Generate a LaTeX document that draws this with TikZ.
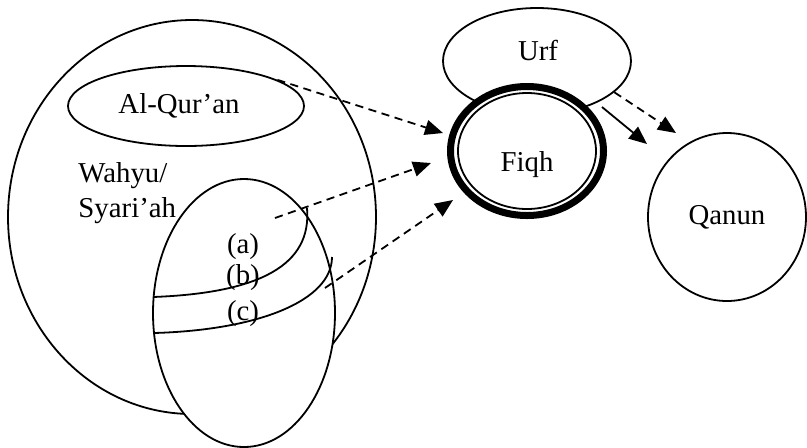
\documentclass[tikz,border=0pt]{standalone}
\usepackage{fontspec}
\setmainfont{Liberation Serif}
\usepackage{tikz}
\usetikzlibrary{shapes.geometric,arrows.meta}

\begin{document}
\begin{tikzpicture}[x=0.41667pt,y=-0.41667pt,
		ring/.style={draw,ellipse,inner sep=0pt,line width=0.75pt},
		txt/.style={inner sep=0pt,font=\fontsize{12}{14.5}\selectfont},
		dasharrow/.style={line width=0.75pt,dash pattern=on 3.4pt off 2.3pt,-{Triangle[length=7.5pt,width=6.3pt]}},
		fullarrow/.style={line width=0.75pt,-{Triangle[length=7.5pt,width=6.3pt]}}]
		\useasboundingbox (0,0) rectangle (807,447);
		\node[ring,minimum width=153.33pt,minimum height=164.17pt] (wahyu) at (192,217) {};
		\node[ring,minimum width=98.33pt,minimum height=33.33pt] (quran) at (186,106) {};
		\node[txt] (qurantxt) at (179,106) {Al-Qur'an};
		\node[txt,anchor=north west,align=left] (wahyutxt) at (78,162) {Wahyu/\\Syari'ah};
		\node[ring,fill=white,minimum width=75.83pt,minimum height=111.67pt] (sumber) at (244,313) {};
		\draw[line width=0.75pt] (153,297) .. controls (260,293) and (312,265) .. (307,208);
		\draw[line width=0.75pt] (154,333) .. controls (260,330) and (332,300) .. (332,257);
		\node[txt] (a) at (243,247) {(a)};
		\node[txt] (b) at (243,278) {(b)};
		\node[txt] (c) at (243,314) {(c)};
		\node[ring,minimum width=78.33pt,minimum height=44.17pt] (urf) at (537,61) {};
		\node[txt] (urftxt) at (538,50) {Urf};
		\node[ring,fill=white,line width=2.92pt,minimum width=63.75pt,minimum height=53.75pt] (fiqh) at (527,151) {};
		\node[ring,minimum width=57.5pt,minimum height=48.33pt] (fiqhin) at (527,151) {};
		\node[txt] (fiqhtxt) at (527,165) {Fiqh};
		\node[ring,txt,minimum width=65.83pt,minimum height=70pt] (qanun) at (727,217) {Qanun};
		\coordinate (t1) at (443,133);
		\coordinate (t2) at (431,163);
		\coordinate (t3) at (453,200);
		\coordinate (t4) at (647,144);
		\coordinate (t5) at (676,133);
		\coordinate (s2) at (275,218);
		\coordinate (s3) at (325,288);
		\coordinate (s4) at (602,107);
		\draw[dasharrow] (quran.16) -- (t1);
		\draw[dasharrow] (s2) -- (t2);
		\draw[dasharrow] (s3) -- (t3);
		\draw[fullarrow] (s4) -- (t4);
		\draw[dasharrow] (urf.-22) -- (t5);
\end{tikzpicture}
\end{document}
